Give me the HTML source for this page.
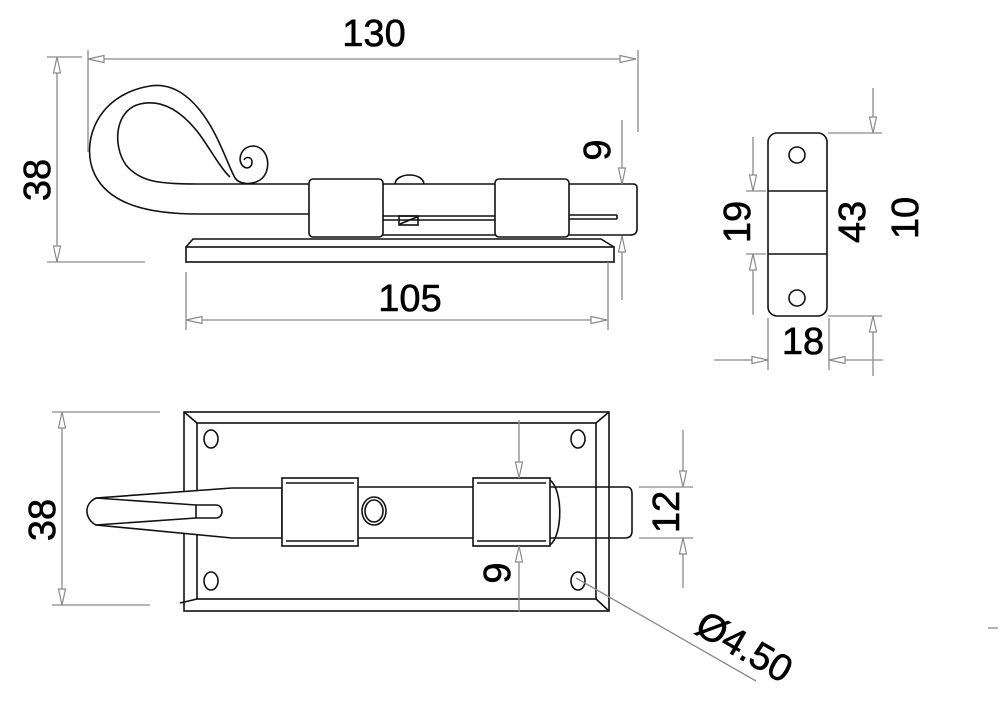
<!DOCTYPE html>
<html><head><meta charset="utf-8"><style>
html,body{margin:0;padding:0;background:#fff;width:1000px;height:726px;overflow:hidden}
svg{display:block}
text{font-family:"Liberation Sans","DejaVu Sans",sans-serif;font-size:38px;fill:#000;stroke:#000;stroke-width:0.6}
.d{stroke:#8a8a8a;stroke-width:1.3;fill:none}
.o{stroke:#111;stroke-width:1.6;fill:none}
.ow{stroke:#111;stroke-width:1.6;fill:#fff}
</style></head><body>
<svg width="1000" height="726" viewBox="0 0 1000 726" xmlns="http://www.w3.org/2000/svg">
<defs>
<marker id="a" markerUnits="userSpaceOnUse" markerWidth="24" markerHeight="12" refX="0" refY="0" viewBox="-18 -6 20 12" orient="auto-start-reverse">
<path d="M0,0 L-16,-3.5 L-16,3.5 Z" fill="#fff" stroke="#8a8a8a" stroke-width="1.2"/>
</marker>
</defs>

<!-- ===== TOP VIEW ===== -->
<line class="d" x1="88" y1="59" x2="636" y2="59" marker-start="url(#a)" marker-end="url(#a)"/>
<line class="d" x1="88" y1="50" x2="88" y2="152"/>
<line class="d" x1="638" y1="50" x2="638" y2="132"/>
<text x="374" y="46" text-anchor="middle">130</text>
<line class="d" x1="57" y1="57" x2="57" y2="262" marker-start="url(#a)" marker-end="url(#a)"/>
<line class="d" x1="47" y1="57" x2="82" y2="57"/>
<line class="d" x1="47" y1="262" x2="145" y2="262"/>
<text transform="translate(50,180) rotate(-90)" text-anchor="middle">38</text>

<path class="o" d="M198,214 C150,214 110,205 95,175 C80,145 95,95 150,86 C175,82 195,100 210,125 C222,145 228,165 235,178 C240,185 252,185 260,180"/>
<path class="o" d="M196,184 C160,184 140,182 126,165 C112,145 115,110 140,104 C165,98 185,115 200,135 C212,152 222,170 230,177"/>
<path class="o" d="M260,180 C272,172 270,148 254,146 C242,146 237,158 242,165 C246,170 252,168 252,162 C252,157 246,156 244,160"/>
<line class="o" x1="196" y1="184" x2="309" y2="184"/>
<line class="o" x1="198" y1="214" x2="309" y2="214"/>
<line class="o" x1="383" y1="184" x2="495" y2="184"/>
<path class="o" d="M569,184 L633,184 Q637,184 637,188 L637,229 Q637,235 630,235 L569,235"/>
<line class="o" x1="383" y1="235" x2="495" y2="235"/>
<line class="o" x1="383" y1="216" x2="495" y2="216"/>
<line class="o" x1="383" y1="220" x2="495" y2="220"/>
<line class="o" x1="569" y1="215" x2="617" y2="215"/>
<line class="o" x1="569" y1="219" x2="617" y2="219"/>
<line class="o" x1="617" y1="215" x2="617" y2="219"/>
<path class="o" d="M395,184 C396,172 423,172 424,184"/>
<rect class="o" x="399" y="216" width="19" height="9"/>
<line class="o" x1="400" y1="224" x2="417" y2="217"/>
<rect class="ow" x="309" y="179" width="74" height="58" rx="4"/>
<rect class="ow" x="495" y="179" width="74" height="58" rx="4"/>
<path class="o" d="M186,247 L193,239 L601,239 L614,247"/>
<rect class="o" x="186" y="247" width="428" height="15"/>
<line class="d" x1="622" y1="120" x2="622" y2="184" marker-end="url(#a)"/>
<line class="d" x1="622" y1="300" x2="622" y2="236" marker-end="url(#a)"/>
<text transform="translate(610,150) rotate(-90)" text-anchor="middle">9</text>
<line class="d" x1="186" y1="320" x2="607" y2="320" marker-start="url(#a)" marker-end="url(#a)"/>
<line class="d" x1="186" y1="272" x2="186" y2="330"/>
<line class="d" x1="608" y1="262" x2="608" y2="330"/>
<text x="410" y="311" text-anchor="middle">105</text>

<!-- ===== KEEPER ===== -->
<rect class="o" x="768" y="133" width="59" height="183" rx="9"/>
<circle class="o" cx="797" cy="155" r="8"/>
<circle class="o" cx="797" cy="298" r="8"/>
<line class="o" x1="768" y1="191" x2="827" y2="191"/>
<line class="o" x1="768" y1="254" x2="827" y2="254"/>
<line class="d" x1="753" y1="137" x2="753" y2="191" marker-end="url(#a)"/>
<line class="d" x1="753" y1="315" x2="753" y2="254" marker-end="url(#a)"/>
<line class="d" x1="746" y1="191" x2="766" y2="191"/>
<line class="d" x1="746" y1="254" x2="766" y2="254"/>
<text transform="translate(750,222) rotate(-90)" text-anchor="middle">19</text>
<text transform="translate(865,222) rotate(-90)" text-anchor="middle">43</text>
<line class="d" x1="873" y1="88" x2="873" y2="133" marker-end="url(#a)"/>
<line class="d" x1="873" y1="376" x2="873" y2="316" marker-end="url(#a)"/>
<line class="d" x1="828" y1="133" x2="882" y2="133"/>
<line class="d" x1="828" y1="316" x2="882" y2="316"/>
<text transform="translate(918,218) rotate(-90)" text-anchor="middle">10</text>
<line class="d" x1="714" y1="360" x2="768" y2="360" marker-end="url(#a)"/>
<line class="d" x1="883" y1="360" x2="829" y2="360" marker-end="url(#a)"/>
<line class="d" x1="768" y1="318" x2="768" y2="370"/>
<line class="d" x1="829" y1="318" x2="829" y2="370"/>
<text x="803" y="354" text-anchor="middle">18</text>

<!-- ===== BOTTOM VIEW ===== -->
<rect class="o" x="184" y="412" width="425" height="199"/>
<rect class="o" x="197" y="423" width="399" height="176"/>
<line class="o" x1="184" y1="412" x2="197" y2="423"/>
<line class="o" x1="609" y1="412" x2="596" y2="423"/>
<line class="o" x1="609" y1="611" x2="596" y2="599"/>
<line class="o" x1="180" y1="603" x2="197" y2="599"/>
<ellipse class="o" cx="211" cy="439" rx="7" ry="9"/>
<ellipse class="o" cx="578" cy="439" rx="7" ry="9"/>
<ellipse class="o" cx="211" cy="581" rx="7" ry="9"/>
<ellipse class="o" cx="578" cy="581" rx="7" ry="9"/>
<path class="ow" d="M96,498 L232,488 L282,488 L282,538 L232,538 L96,525 C86,520 82,505 96,498 Z"/>
<path class="o" d="M96,498 L196,505 L216,505 C224,505 224,518 216,518 L196,518 L96,525"/>
<line class="o" x1="196" y1="505" x2="196" y2="518"/>
<line class="o" x1="358" y1="487" x2="473" y2="487"/>
<line class="o" x1="358" y1="538" x2="473" y2="538"/>
<path class="o" d="M550,487 L627,487 Q632,487 632,494 L632,531 Q632,538 625,538 L550,538"/>
<path class="o" d="M550,480 C563,490 563,535 550,545"/>
<rect class="ow" x="282" y="478" width="76" height="68"/>
<line class="o" x1="286" y1="483" x2="354" y2="483"/>
<line class="o" x1="286" y1="541" x2="354" y2="541"/>
<rect class="ow" x="473" y="478" width="77" height="68"/>
<line class="o" x1="477" y1="483" x2="546" y2="483"/>
<line class="o" x1="477" y1="541" x2="546" y2="541"/>
<ellipse class="o" cx="374" cy="511" rx="12" ry="14"/>
<ellipse class="o" cx="374" cy="511" rx="9" ry="11"/>
<line class="d" x1="519" y1="420" x2="519" y2="478" marker-end="url(#a)"/>
<line class="d" x1="519" y1="612" x2="519" y2="546" marker-end="url(#a)"/>
<text transform="translate(510,573) rotate(-90)" text-anchor="middle">9</text>
<line class="d" x1="683" y1="430" x2="683" y2="487" marker-end="url(#a)"/>
<line class="d" x1="683" y1="588" x2="683" y2="538" marker-end="url(#a)"/>
<line class="d" x1="639" y1="487" x2="693" y2="487"/>
<line class="d" x1="639" y1="538" x2="693" y2="538"/>
<text transform="translate(679,512) rotate(-90)" text-anchor="middle">12</text>
<line class="d" x1="62" y1="412" x2="62" y2="605" marker-start="url(#a)" marker-end="url(#a)"/>
<line class="d" x1="52" y1="412" x2="160" y2="412"/>
<line class="d" x1="52" y1="605" x2="150" y2="605"/>
<text transform="translate(55,520) rotate(-90)" text-anchor="middle">38</text>
<line class="d" x1="576" y1="578" x2="756" y2="681"/>
<text transform="translate(738,658) rotate(30)" text-anchor="middle">Ø4.50</text>
<line class="d" x1="988" y1="628" x2="998" y2="628"/>
</svg>
</body></html>
